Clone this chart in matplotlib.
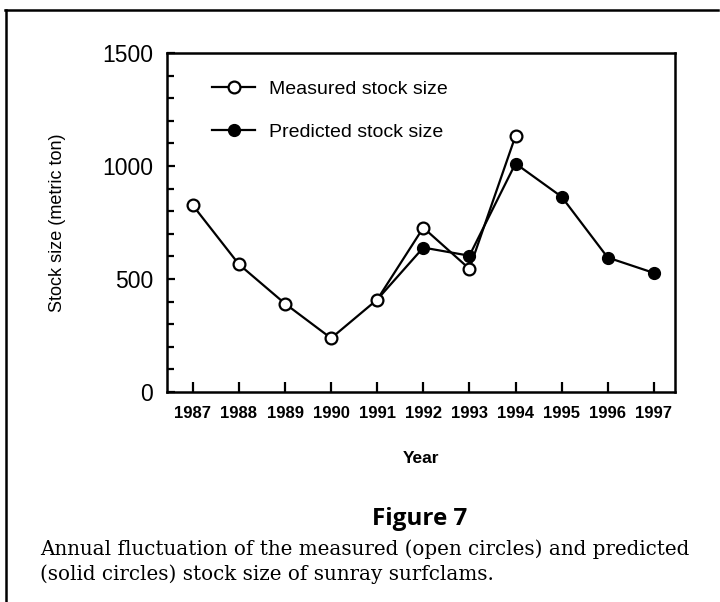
import matplotlib
matplotlib.use("Agg")
import matplotlib.pyplot as plt
from matplotlib.lines import Line2D
from matplotlib.ticker import MultipleLocator

years_measured = [1987, 1988, 1989, 1990, 1991, 1992, 1993, 1994]
measured = [826, 565, 391, 238, 409, 727, 545, 1133]
years_predicted = [1991, 1992, 1993, 1994, 1995, 1996, 1997]
predicted = [409, 639, 603, 1011, 864, 595, 527]
year_ticks = list(range(1987, 1998))
y_ticks = [0, 500, 1000, 1500]

plt.rcParams['font.family'] = ['Liberation Sans', 'DejaVu Sans']

fig = plt.figure(figsize=(7.2, 6.02), dpi=100)
ax = fig.add_axes([167/720, 1-392/602, (675-167)/720, (392-53)/602])

ax.plot(years_predicted, predicted, color='black', lw=1.6, marker='o',
        markersize=8.5, markerfacecolor='black', markeredgecolor='black',
        label='Predicted stock size', zorder=2)
ax.plot(years_measured, measured, color='black', lw=1.6, marker='o',
        markersize=8.5, markerfacecolor='white', markeredgecolor='black',
        markeredgewidth=1.6, label='Measured stock size', zorder=3)

ax.set_xlim(1986.44, 1997.46)
ax.set_ylim(0, 1500)
ax.set_xticks(year_ticks)
ax.set_xticklabels([str(y) for y in year_ticks], fontsize=12, fontweight='bold')
ax.set_yticks(y_ticks)
ax.set_yticklabels([str(v) for v in y_ticks], fontsize=16.5)
ax.yaxis.set_minor_locator(MultipleLocator(100))
ax.tick_params(axis='both', which='both', direction='in', top=False, right=False,
               width=1.6)
ax.tick_params(axis='y', which='major', length=6, pad=10)
ax.tick_params(axis='y', which='minor', length=5)
ax.tick_params(axis='x', which='major', length=7, pad=10)
for s in ax.spines.values():
    s.set_linewidth(1.8)

ax.set_xlabel('Year', fontsize=12.5, fontweight='bold', labelpad=22)
ax.set_ylabel('Stock size (metric ton)', fontsize=13, labelpad=26)

handles, labels = ax.get_legend_handles_labels()
ax.legend(handles[::-1], labels[::-1], loc='upper left', frameon=False,
          fontsize=14, bbox_to_anchor=(0.055, 0.97), labelspacing=1.3,
          handlelength=2.2, handletextpad=0.7)

fig.text(0.583, 1-519/602, 'Figure 7', fontsize=17.5, fontweight='bold',
         ha='center', va='center', family=['Open Sans', 'DejaVu Sans'])
fig.text(40/720, 1-549/602,
         'Annual fluctuation of the measured (open circles) and predicted',
         fontsize=14.3, ha='left', va='center', family=['DejaVu Serif'])
fig.text(40/720, 1-574/602,
         '(solid circles) stock size of sunray surfclams.',
         fontsize=14.3, ha='left', va='center', family=['DejaVu Serif'])

fig.add_artist(Line2D([5/720, 718/720], [1-10/602, 1-10/602],
                      transform=fig.transFigure, color='black', lw=1.8))
fig.add_artist(Line2D([6/720, 6/720], [1-10/602, 0],
                      transform=fig.transFigure, color='black', lw=1.8))

fig.savefig('out.png', dpi=100)
